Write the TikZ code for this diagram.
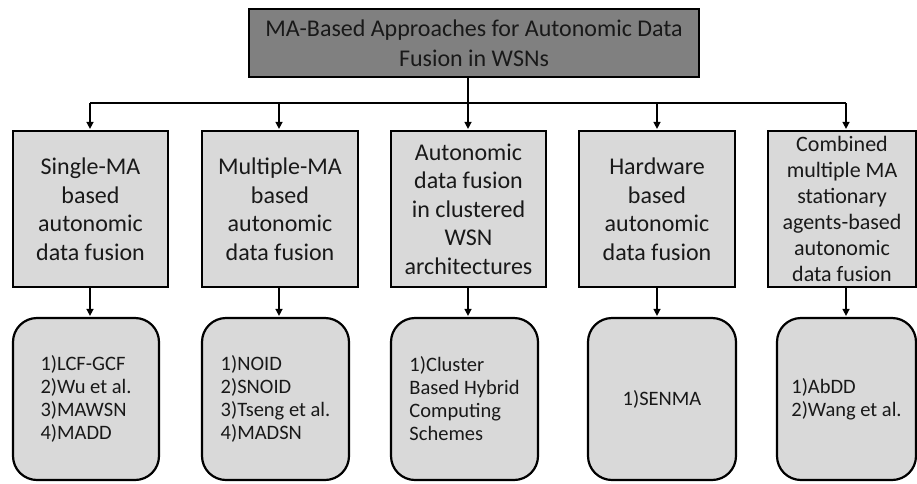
\documentclass[tikz,border=0pt]{standalone}
\usepackage{fontspec}
\setmainfont{Carlito}
\usetikzlibrary{arrows.meta}

\definecolor{headgray}{RGB}{128,128,128}
\definecolor{boxgray}{RGB}{217,217,217}
\definecolor{inkcol}{RGB}{25,25,25}

\tikzset{
  headbox/.style={draw=black, line width=2.2pt, fill=headgray, text=inkcol,
    align=center, font=\fontsize{24}{30}\selectfont},
  catbox/.style={draw=black, line width=2.2pt, fill=boxgray, text=inkcol,
    align=center, font=\fontsize{24}{28.5}\selectfont, minimum height=156pt},
  listbox/.style={draw=black, line width=2.2pt, fill=boxgray, text=inkcol,
    rounded corners=24pt, align=left, font=\fontsize{20.5}{23}\selectfont,
    minimum height=162pt},
  link/.style={line width=1.4pt, draw=black},
  arrowlink/.style={link, -{Triangle[length=7pt,width=7pt]}, shorten >=1pt}
}

\begin{document}
\begin{tikzpicture}[x=1pt,y=-1pt]
\useasboundingbox (0,0) rectangle (917,483);

% heading
\node[headbox, minimum width=450pt, minimum height=68pt] (top) at (474,43)
  {MA-Based Approaches for Autonomic Data\\Fusion in WSNs};

% category boxes
\node[catbox, minimum width=155pt] (c1) at (90.5,209)
  {Single-MA\\based\\autonomic\\data fusion};
\node[catbox, minimum width=156pt] (c2) at (280,209)
  {Multiple-MA\\based\\autonomic\\data fusion};
\node[catbox, minimum width=155pt] (c3) at (468.5,209)
  {Autonomic\\data fusion\\in clustered\\WSN\\architectures};
\node[catbox, minimum width=156pt] (c4) at (657,209)
  {Hardware\\based\\autonomic\\data fusion};
\node[catbox, minimum width=148pt, font=\fontsize{22}{26}\selectfont] (c5) at (842,209)
  {Combined\\multiple MA\\stationary\\agents-based\\autonomic\\data fusion};

% approach lists
\node[listbox, minimum width=146pt] (l1) at (86,399)
  {1)LCF-GCF\\2)Wu et al.\\3)MAWSN\\4)MADD};
\node[listbox, minimum width=147pt] (l2) at (275.5,399)
  {1)NOID\\2)SNOID\\3)Tseng et al.\\4)MADSN};
\node[listbox, minimum width=147pt] (l3) at (464.5,399)
  {1)Cluster\\Based Hybrid\\Computing\\Schemes};
\node[listbox, minimum width=148pt] (l4) at (662,399)
  {1)SENMA};
\node[listbox, minimum width=139pt] (l5) at (846.5,399)
  {1)AbDD\\2)Wang et al.};

% distribution bus
\coordinate (j) at (468,103);
\coordinate (a1) at (90,103);
\coordinate (a2) at (279,103);
\coordinate (a3) at (468,103);
\coordinate (a4) at (657,103);
\coordinate (a5) at (846,103);

\draw[link] (top.south -| j) -- (j);
\draw[link] (a1) -- (a5);

\foreach \i in {1,...,5}{
  \draw[arrowlink] (a\i) -- (a\i |- c\i.north);
  \draw[arrowlink] (a\i |- c\i.south) -- (a\i |- l\i.north);
}
\end{tikzpicture}
\end{document}
